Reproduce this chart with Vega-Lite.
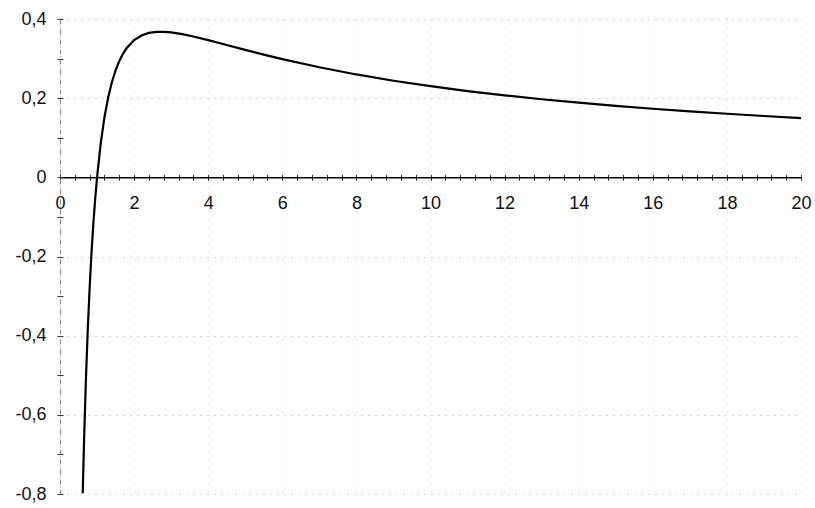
{
  "$schema": "https://vega.github.io/schema/vega-lite/v6.json",
  "autosize": "none",
  "width": 741,
  "height": 475,
  "padding": {"left": 60, "top": 19, "right": 14, "bottom": 14},
  "background": "white",
  "config": {"view": {"stroke": null}},
  "data": {"values": [
    {"x": 0.613, "y": -0.798}, {"x": 0.65, "y": -0.6627}, {"x": 0.7, "y": -0.5095}, {"x": 0.75, "y": -0.3836},
    {"x": 0.8, "y": -0.2789}, {"x": 0.85, "y": -0.1912}, {"x": 0.9, "y": -0.1171}, {"x": 0.95, "y": -0.054},
    {"x": 1.0, "y": 0.0}, {"x": 1.1, "y": 0.0866}, {"x": 1.2, "y": 0.1519}, {"x": 1.3, "y": 0.2018},
    {"x": 1.4, "y": 0.2403}, {"x": 1.5, "y": 0.2703}, {"x": 1.6, "y": 0.2938}, {"x": 1.7, "y": 0.3121},
    {"x": 1.8, "y": 0.3266}, {"x": 2.0, "y": 0.3466}, {"x": 2.2, "y": 0.3584}, {"x": 2.4, "y": 0.3648},
    {"x": 2.6, "y": 0.3675}, {"x": 2.8, "y": 0.3677}, {"x": 3.0, "y": 0.3662}, {"x": 3.3, "y": 0.3618},
    {"x": 3.6, "y": 0.3558}, {"x": 4.0, "y": 0.3466}, {"x": 4.5, "y": 0.3342}, {"x": 5.0, "y": 0.3219},
    {"x": 5.5, "y": 0.31}, {"x": 6.0, "y": 0.2986}, {"x": 7.0, "y": 0.278}, {"x": 8.0, "y": 0.2599},
    {"x": 9.0, "y": 0.2441}, {"x": 10.0, "y": 0.2303}, {"x": 11.0, "y": 0.218}, {"x": 12.0, "y": 0.2071},
    {"x": 13.0, "y": 0.1973}, {"x": 14.0, "y": 0.1885}, {"x": 15.0, "y": 0.1805}, {"x": 16.0, "y": 0.1733},
    {"x": 17.0, "y": 0.1667}, {"x": 18.0, "y": 0.1606}, {"x": 19.0, "y": 0.155}, {"x": 20.0, "y": 0.1498}
  ]},
  "resolve": {"axis": {"x": "independent", "y": "independent"}},
  "layer": [
    {
      "mark": {"type": "line", "strokeOpacity": 0},
      "encoding": {
        "x": {"field": "x", "type": "quantitative", "scale": {"domain": [0, 20], "nice": false},
          "axis": {"orient": "bottom", "values": [0,0.4,0.8,1.2,1.6,2,2.4,2.8,3.2,3.6,4,4.4,4.8,5.2,5.6,6,6.4,6.8,7.2,7.6,8,8.4,8.8,9.2,9.6,10,10.4,10.8,11.2,11.6,12,12.4,12.8,13.2,13.6,14,14.4,14.8,15.2,15.6,16,16.4,16.8,17.2,17.6,18,18.4,18.8,19.2,19.6,20],
            "offset": -319.7, "tickSize": 6, "tickColor": "#333", "tickWidth": 1, "domain": false, "labels": false, "grid": false, "title": null}},
        "y": {"field": "y", "type": "quantitative", "scale": {"domain": [-0.8, 0.4], "nice": false},
          "axis": {"orient": "left", "values": [-0.8,-0.7,-0.6,-0.5,-0.4,-0.3,-0.2,-0.1,0,0.1,0.2,0.3,0.4],
            "offset": -3, "tickSize": 6, "tickColor": "#333", "tickWidth": 1, "domain": false, "labels": false, "grid": false, "title": null}}
      }
    },
    {
      "mark": {"type": "line", "color": "#000", "strokeWidth": 2.2, "interpolate": "linear"},
      "encoding": {
        "x": {"field": "x", "type": "quantitative", "scale": {"domain": [0, 20], "nice": false},
          "axis": {"orient": "bottom", "values": [0,2,4,6,8,10,12,14,16,18,20], "offset": -316.7,
            "tickSize": 0, "labelPadding": 17, "labelFont": "Liberation Sans", "labelFontSize": 18, "labelColor": "#111",
            "labelOverlap": false, "labelBound": false, "labelFlush": false,
            "domainColor": "#000", "domainWidth": 1.5,
            "grid": true, "gridColor": "#ccc", "gridDash": [1, 7], "gridWidth": 1, "title": null}},
        "y": {"field": "y", "type": "quantitative", "scale": {"domain": [-0.8, 0.4], "nice": false},
          "axis": {"orient": "left", "values": [-0.8,-0.6,-0.4,-0.2,0,0.2,0.4],
            "labelExpr": "datum.value == 0 ? '0' : (datum.value < 0 ? '-' : '') + replace(format(abs(datum.value), '.1f'), '.', ',')",
            "labelFont": "Liberation Sans", "labelFontSize": 18, "labelColor": "#111",
            "labelOverlap": false, "labelBound": false, "labelFlush": false,
            "tickSize": 0, "labelPadding": 14, "domainColor": "#888", "domainDash": [5, 2, 1, 2], "domainWidth": 1,
            "grid": true, "gridColor": "#aaa", "gridDash": [1, 6], "gridWidth": 1, "title": null}}
      }
    }
  ]
}
